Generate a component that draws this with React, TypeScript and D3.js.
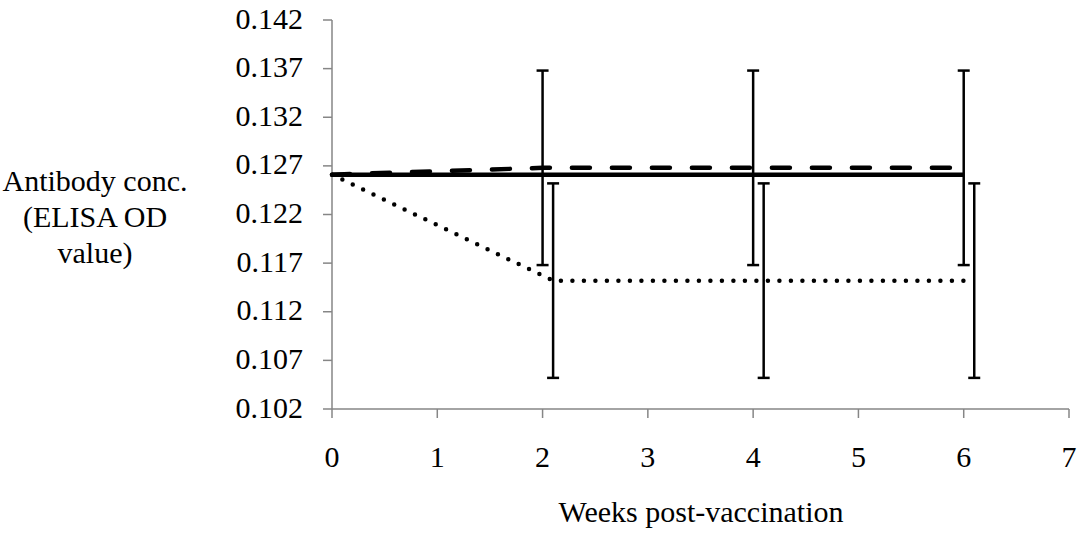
import React from "react";
import * as d3 from "d3";

const yTicks = [0.102, 0.107, 0.112, 0.117, 0.122, 0.127, 0.132, 0.137, 0.142];
const xTicks = [0, 1, 2, 3, 4, 5, 6, 7];

const solidX = [0, 2, 4, 6];
const solidY = [0.1261, 0.1261, 0.1261, 0.1261];

const dashedX = [0, 2, 4, 6];
const dashedY = [0.1261, 0.1268, 0.1268, 0.1268];
const dashedErr = [0, 0.01, 0.01, 0.01];

const dottedX = [0, 2.1, 4.1, 6.1];
const dottedY = [0.1261, 0.1152, 0.1152, 0.1152];
const dottedErr = [0, 0.01, 0.01, 0.01];

const yTitle = ["Antibody conc.", "(ELISA OD", "value)"];
const xTitle = "Weeks post-vaccination";

const FONT = "Liberation Serif, Times New Roman, DejaVu Serif, serif";
const textStyle: React.CSSProperties = { fontFamily: FONT, fontSize: "30px" };

export default function App() {
  const x = d3.scaleLinear().domain([0, 7]).range([332, 1069]);
  const y = d3.scaleLinear().domain([0.102, 0.142]).range([409, 20]);
  const line = d3
    .line<[number, number]>()
    .x((d) => x(d[0]))
    .y((d) => y(d[1]));

  const pts = (xs: number[], ys: number[]) => xs.map((v, i) => [v, ys[i]] as [number, number]);

  const errBars = (xs: number[], ys: number[], es: number[], key: string) =>
    xs.map((v, i) => {
      if (!es[i]) return null;
      const cx = x(v);
      const y1 = y(ys[i] + es[i]);
      const y2 = y(ys[i] - es[i]);
      return (
        <g key={key + i} stroke="#000" strokeWidth={2.5}>
          <line x1={cx} x2={cx} y1={y1} y2={y2} />
          <line x1={cx - 6} x2={cx + 6} y1={y1} y2={y1} />
          <line x1={cx - 6} x2={cx + 6} y1={y2} y2={y2} />
        </g>
      );
    });

  const axisColor = "#868686";

  return (
    <svg
      width={1084}
      height={533}
      style={{ position: "absolute", left: 0, top: 0, background: "#fff" }}
    >
      <rect width={1084} height={533} fill="#fff" />
      {/* axes */}
      <line x1={x(0)} x2={x(0)} y1={y(0.142)} y2={y(0.102)} stroke={axisColor} strokeWidth={1.5} />
      <line x1={x(0)} x2={x(7)} y1={y(0.102)} y2={y(0.102)} stroke={axisColor} strokeWidth={1.5} />
      {yTicks.map((t) => (
        <g key={"yt" + t}>
          <line x1={x(0) - 9} x2={x(0)} y1={y(t)} y2={y(t)} stroke={axisColor} strokeWidth={1.5} />
          <text x={303} y={y(t) - 2} textAnchor="end" dominantBaseline="central" style={textStyle} fill="#000">
            {t.toFixed(3)}
          </text>
        </g>
      ))}
      {xTicks.map((t) => (
        <g key={"xt" + t}>
          <line x1={x(t)} x2={x(t)} y1={y(0.102)} y2={y(0.102) + 9} stroke={axisColor} strokeWidth={1.5} />
          <text x={x(t)} y={456} textAnchor="middle" dominantBaseline="central" style={textStyle} fill="#000">
            {t}
          </text>
        </g>
      ))}
      {/* titles */}
      {yTitle.map((s, i) => (
        <text key={s} x={95} y={180 + i * 36} textAnchor="middle" dominantBaseline="central" style={textStyle} fill="#000">
          {s}
        </text>
      ))}
      <text x={701} y={511} textAnchor="middle" dominantBaseline="central" style={textStyle} fill="#000">
        {xTitle}
      </text>

      {/* error bars */}
      {errBars(dashedX, dashedY, dashedErr, "de")}
      {errBars(dottedX, dottedY, dottedErr, "do")}

      {/* series */}
      <path d={line(pts(solidX, solidY)) || ""} fill="none" stroke="#000" strokeWidth={4.5} />
      <path
        d={line(pts(dashedX, dashedY)) || ""}
        fill="none"
        stroke="#000"
        strokeWidth={4.5}
        strokeDasharray="18 22"
        strokeLinecap="round"
      />
      <path
        d={line(pts(dottedX, dottedY)) || ""}
        fill="none"
        stroke="#000"
        strokeWidth={4.5}
        strokeDasharray="0 11.5"
        strokeLinecap="round"
      />
    </svg>
  );
}
